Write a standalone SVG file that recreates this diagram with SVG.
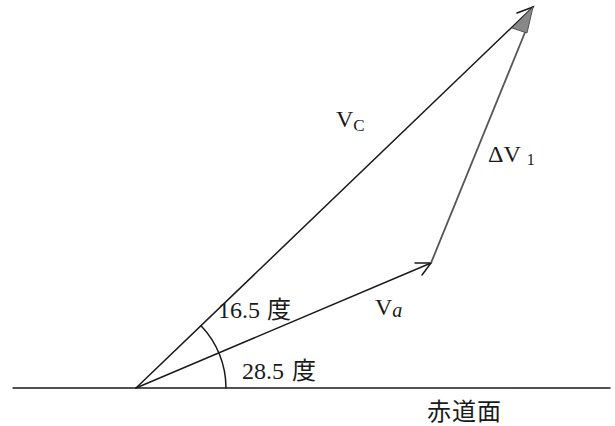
<svg xmlns="http://www.w3.org/2000/svg" width="615" height="426" viewBox="0 0 615 426">
<style>
.t{font-family:"Liberation Serif","Noto Sans CJK JP",serif;font-size:24px;fill:#1a1a1a}
.ln{stroke:#1a1a1a;stroke-width:1.5;fill:none;stroke-linecap:round}
.gl{stroke:#555;stroke-width:1.8;fill:none}
</style>
<rect width="615" height="426" fill="#fff"/>
<g id="connectors">
<line id="equator" class="ln" x1="13" y1="388" x2="610" y2="388"/>
<line id="vc" class="ln" x1="136" y1="388" x2="533" y2="7"/>
<polyline class="ln" points="517,13 533,7 524,22"/>
<line id="va" class="ln" x1="136" y1="388" x2="431" y2="263"/>
<polyline class="ln" points="415,263 431,263 422,275"/>
<line id="dv1" class="gl" x1="431" y1="263" x2="528" y2="25"/>
<polygon points="533,7 512,28 527,33" fill="#888" stroke="#555" stroke-width="1"/>
<path id="arc" class="ln" d="M201,325.7 A90,90 0 0 1 226,388"/>
</g>
<g id="labels">
<text class="t" x="336" y="127">V<tspan font-size="17" dy="4">C</tspan></text>
<text class="t" x="488" y="162" font-size="25">ΔV<tspan font-size="16" dx="6" dy="3">1</tspan></text>
<text class="t" x="375" y="315">V<tspan font-size="20" font-style="italic" dy="2">a</tspan></text>
<text class="t" x="218" y="318" font-size="25">16.5<tspan dx="7">度</tspan></text>
<text class="t" x="242" y="379" font-size="25">28.5<tspan dx="8">度</tspan></text>
<text class="t" x="427" y="420" font-size="26" letter-spacing="1">赤道面</text>
</g>
</svg>
